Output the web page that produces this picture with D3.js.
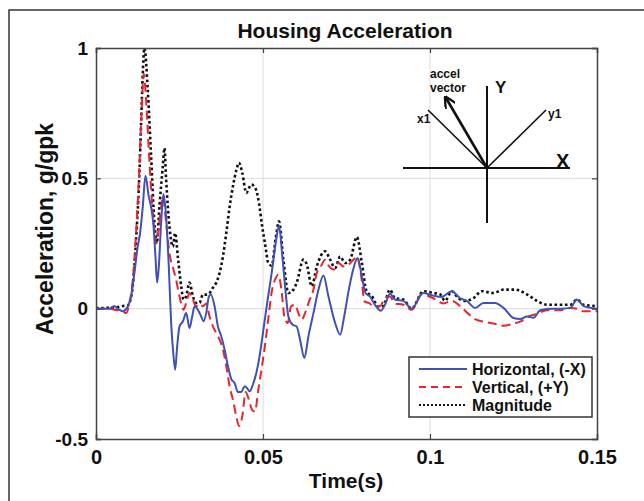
<!DOCTYPE html>
<html>
<head>
<meta charset="utf-8">
<script src="https://cdn.jsdelivr.net/npm/d3@7"></script>
<style>
  body { margin: 0; background: #fff; }
  text { font-family: "Liberation Sans", Arial, sans-serif; font-weight: bold; fill: #111; }
</style>
</head>
<body>
<div id="chart-area"></div>
<script>
// data: [time (s), acceleration (g/gpk)]
var horizontal = [[0,0],[0.004,0],[0.0055,0.01],[0.0065,0],[0.008,-0.01],[0.0095,0.008],[0.0105,0.047],[0.0115,0.137],[0.0125,0.24],[0.0132,0.29],[0.014,0.39],[0.0148,0.51],[0.0158,0.43],[0.0165,0.39],[0.0172,0.32],[0.0178,0.2],[0.0183,0.1],[0.0188,0.16],[0.0195,0.33],[0.0202,0.44],[0.021,0.35],[0.0218,0.16],[0.0225,-0.055],[0.0232,-0.18],[0.0237,-0.234],[0.0243,-0.145],[0.025,-0.068],[0.026,-0.049],[0.027,-0.017],[0.028,-0.074],[0.0288,-0.03],[0.0295,0.009],[0.0305,-0.004],[0.0315,-0.03],[0.0322,-0.049],[0.033,-0.017],[0.0338,0.047],[0.0344,0.054],[0.0355,0.009],[0.0365,-0.068],[0.0375,-0.106],[0.0385,-0.157],[0.0395,-0.22],[0.0405,-0.27],[0.0415,-0.285],[0.0425,-0.32],[0.0435,-0.32],[0.0445,-0.298],[0.0452,-0.304],[0.046,-0.317],[0.047,-0.29],[0.048,-0.247],[0.049,-0.18],[0.0498,-0.11],[0.0511,0.009],[0.0526,0.137],[0.0538,0.252],[0.0548,0.318],[0.0558,0.2],[0.0568,0.06],[0.0576,-0.03],[0.0588,-0.061],[0.0601,-0.069],[0.0611,-0.119],[0.0624,-0.189],[0.0636,-0.106],[0.0651,-0.017],[0.0666,0.073],[0.0681,0.127],[0.0696,0.047],[0.0716,-0.055],[0.0731,-0.1],[0.0743,-0.03],[0.0757,0.073],[0.077,0.15],[0.0783,0.194],[0.0796,0.124],[0.0807,0.06],[0.082,0.047],[0.0835,0.015],[0.0853,-0.008],[0.0867,0.02],[0.088,0.058],[0.0895,0.035],[0.092,0.03],[0.0945,0],[0.098,0.06],[0.101,0.05],[0.1035,0.045],[0.1065,0.067],[0.109,0.04],[0.111,0.03],[0.1135,0.003],[0.116,0.022],[0.1195,0.022],[0.122,0.003],[0.125,-0.036],[0.127,-0.04],[0.129,-0.03],[0.131,-0.035],[0.133,-0.006],[0.136,0],[0.1395,0],[0.142,0.003],[0.144,0.035],[0.146,0.01],[0.15,0]];

var vertical = [[0,0],[0.004,0],[0.0055,-0.004],[0.008,-0.01],[0.009,-0.017],[0.01,0.02],[0.011,0.11],[0.012,0.29],[0.0128,0.49],[0.0135,0.71],[0.0143,0.9],[0.015,0.8],[0.0158,0.61],[0.0165,0.456],[0.0172,0.34],[0.018,0.25],[0.0186,0.29],[0.0195,0.39],[0.02,0.43],[0.021,0.33],[0.022,0.21],[0.023,0.16],[0.024,0.11],[0.025,0.047],[0.0262,-0.004],[0.027,0.022],[0.028,0.06],[0.029,0.035],[0.03,0.009],[0.031,0.02],[0.032,0.009],[0.033,0.02],[0.034,-0.03],[0.035,-0.068],[0.036,-0.093],[0.037,-0.119],[0.038,-0.157],[0.039,-0.22],[0.04,-0.298],[0.041,-0.35],[0.042,-0.413],[0.0428,-0.45],[0.0438,-0.413],[0.0448,-0.32],[0.0458,-0.35],[0.0467,-0.387],[0.0476,-0.395],[0.0486,-0.31],[0.0496,-0.23],[0.0506,-0.14],[0.0516,-0.038],[0.0526,0.064],[0.0536,0.111],[0.0546,0.13],[0.0556,0.064],[0.0564,-0.03],[0.0574,-0.055],[0.0584,0.009],[0.0596,0.015],[0.0606,-0.017],[0.0616,-0.042],[0.0626,-0.017],[0.0638,0.028],[0.0651,0.073],[0.0661,0.137],[0.0671,0.156],[0.0686,0.188],[0.0698,0.162],[0.0711,0.15],[0.0726,0.175],[0.0741,0.162],[0.0756,0.169],[0.0771,0.188],[0.0781,0.2],[0.0794,0.124],[0.0804,0.028],[0.0816,0.022],[0.0835,0.009],[0.085,0.009],[0.0865,0.04],[0.088,0.047],[0.0895,0.02],[0.092,0.015],[0.0945,-0.004],[0.0975,0.055],[0.101,0.04],[0.104,0.02],[0.1065,0.03],[0.109,0.01],[0.1115,-0.02],[0.1135,-0.04],[0.116,-0.05],[0.119,-0.057],[0.122,-0.066],[0.125,-0.057],[0.127,-0.05],[0.1295,-0.03],[0.132,-0.02],[0.135,-0.006],[0.139,-0.006],[0.142,0.003],[0.144,0],[0.146,-0.01],[0.15,-0.01]];

var magnitude = [[0,0.002],[0.006,0.005],[0.008,0.01],[0.0095,0.012],[0.01,0.022],[0.011,0.086],[0.012,0.265],[0.013,0.52],[0.0135,0.71],[0.014,0.9],[0.0145,1.0],[0.0155,0.84],[0.0165,0.585],[0.0175,0.328],[0.0182,0.251],[0.019,0.393],[0.02,0.545],[0.0205,0.616],[0.021,0.494],[0.022,0.315],[0.023,0.238],[0.0237,0.29],[0.0245,0.2],[0.0255,0.086],[0.0262,0.035],[0.027,0.048],[0.028,0.1],[0.029,0.048],[0.03,0.022],[0.031,0.022],[0.032,0.054],[0.033,0.054],[0.034,0.06],[0.035,0.08],[0.036,0.1],[0.037,0.137],[0.038,0.2],[0.039,0.29],[0.04,0.39],[0.041,0.47],[0.042,0.53],[0.0428,0.56],[0.0438,0.52],[0.045,0.444],[0.0465,0.476],[0.0478,0.46],[0.0488,0.405],[0.0497,0.32],[0.0506,0.25],[0.0516,0.175],[0.0526,0.165],[0.0538,0.27],[0.0548,0.335],[0.0561,0.188],[0.0576,0.06],[0.0591,0.073],[0.0601,0.1],[0.0621,0.188],[0.0631,0.17],[0.0646,0.086],[0.0661,0.162],[0.0686,0.22],[0.0701,0.188],[0.0716,0.156],[0.0731,0.2],[0.0746,0.175],[0.0761,0.188],[0.0781,0.275],[0.0796,0.175],[0.081,0.067],[0.0826,0.048],[0.0845,0.009],[0.086,0.01],[0.088,0.073],[0.0895,0.04],[0.092,0.035],[0.0945,0],[0.098,0.067],[0.101,0.06],[0.103,0.055],[0.1045,0.03],[0.1065,0.067],[0.1085,0.04],[0.1105,0.03],[0.113,0.04],[0.1155,0.067],[0.119,0.06],[0.122,0.073],[0.1255,0.073],[0.129,0.055],[0.132,0.03],[0.135,0.015],[0.139,0.015],[0.142,0.015],[0.144,0.035],[0.146,0.015],[0.15,0.01]];

var xTicks = [0, 0.05, 0.1, 0.15];
var xTickLabels = ["0", "0.05", "0.1", "0.15"];
var yTicks = [-0.5, 0, 0.5, 1];
var yTickLabels = ["-0.5", "0", "0.5", "1"];
var seriesNames = ["Horizontal, (-X)", "Vertical, (+Y)", "Magnitude"];

// layout
var W = 644, H = 501;
var margin = {left: 96, right: 47, top: 48, bottom: 62};
var width = W - margin.left - margin.right;
var height = H - margin.top - margin.bottom;

var svg = d3.select("#chart-area").append("svg")
    .attr("width", W).attr("height", H);

// outer frame (runs off the right and bottom edge)
svg.append("rect")
    .attr("x", 9).attr("y", 10)
    .attr("width", 700).attr("height", 600)
    .attr("fill", "none").attr("stroke", "#333").attr("stroke-width", 1.5);

var g = svg.append("g")
    .attr("transform", "translate(" + margin.left + "," + margin.top + ")");

var x = d3.scaleLinear().domain([0, 0.15]).range([0, width]);
var y = d3.scaleLinear().domain([-0.5, 1]).range([height, 0]);

// grid
g.selectAll(".vgrid").data(xTicks.slice(1, -1)).enter().append("line")
    .attr("x1", d => x(d)).attr("x2", d => x(d))
    .attr("y1", 0).attr("y2", height)
    .attr("stroke", "#dcdcdc").attr("stroke-width", 1);
g.selectAll(".hgrid").data(yTicks.slice(1, -1)).enter().append("line")
    .attr("x1", 0).attr("x2", width)
    .attr("y1", d => y(d)).attr("y2", d => y(d))
    .attr("stroke", "#dcdcdc").attr("stroke-width", 1);

// curves
var line = d3.line().x(d => x(d[0])).y(d => y(d[1])).curve(d3.curveMonotoneX);

g.append("path").datum(magnitude)
    .attr("d", line).attr("fill", "none")
    .attr("stroke", "#111").attr("stroke-width", 2.6)
    .attr("stroke-dasharray", "2.6,2.6");

g.append("path").datum(vertical)
    .attr("d", line).attr("fill", "none")
    .attr("stroke", "#e8252e").attr("stroke-width", 2)
    .attr("stroke-dasharray", "9,5");

g.append("path").datum(horizontal)
    .attr("d", line).attr("fill", "none")
    .attr("stroke", "#3f51b5").attr("stroke-width", 2);

// axes (MATLAB style: inward ticks all round, box)
var bottomAxis = d3.axisBottom(x).tickValues(xTicks).tickSize(-5).tickPadding(10)
    .tickFormat((d, i) => xTickLabels[i]);
var leftAxis = d3.axisLeft(y).tickValues(yTicks).tickSize(-5).tickPadding(8)
    .tickFormat((d, i) => yTickLabels[i]);

var bx = g.append("g").attr("class", "x-axis")
    .attr("transform", "translate(0," + height + ")").call(bottomAxis);
var ly = g.append("g").attr("class", "y-axis").call(leftAxis);
g.append("g").attr("transform", "translate(" + width + ",0)")
    .call(d3.axisRight(y).tickValues(yTicks).tickSize(-5).tickFormat(""));
g.append("g")
    .call(d3.axisTop(x).tickValues(xTicks).tickSize(-5).tickFormat(""));

g.selectAll(".domain").attr("stroke", "#444").attr("stroke-width", 1.5);
g.selectAll(".tick line").attr("stroke", "#444").attr("stroke-width", 1.2);
bx.selectAll("text").attr("font-size", "20px").attr("fill", "#111").attr("dy", "0.75em")
    .style("font-family", "Liberation Sans, Arial, sans-serif").style("font-weight", "bold");
ly.selectAll("text").attr("font-size", "19px").attr("fill", "#111")
    .style("font-family", "Liberation Sans, Arial, sans-serif").style("font-weight", "bold");

// labels
svg.append("text")
    .attr("x", 345).attr("y", 38)
    .attr("text-anchor", "middle").attr("font-size", "21px")
    .text("Housing Acceleration");

svg.append("text")
    .attr("x", 346).attr("y", 488)
    .attr("text-anchor", "middle").attr("font-size", "21px")
    .text("Time(s)");

svg.append("text")
    .attr("transform", "translate(53,229) rotate(-90)")
    .attr("text-anchor", "middle").attr("font-size", "23px")
    .text("Acceleration, g/gpk");

// legend
var legend = svg.append("g").attr("transform", "translate(409,357)");
legend.append("rect")
    .attr("width", 183).attr("height", 60)
    .attr("fill", "#fff").attr("stroke", "#333").attr("stroke-width", 1.5);

var legendStyles = [
    {stroke: "#3f51b5", dash: null, w: 2},
    {stroke: "#e8252e", dash: "7,5", w: 2},
    {stroke: "#111", dash: "2,2", w: 2}
];
seriesNames.forEach(function(name, i) {
    var row = legend.append("g").attr("transform", "translate(0," + (12 + i * 18) + ")");
    row.append("line")
        .attr("x1", 10).attr("x2", 58)
        .attr("stroke", legendStyles[i].stroke)
        .attr("stroke-width", legendStyles[i].w)
        .attr("stroke-dasharray", legendStyles[i].dash);
    row.append("text")
        .attr("x", 63).attr("y", 6)
        .attr("font-size", "16px")
        .text(name);
});

// inset: coordinate sketch with the accel vector
var inset = svg.append("g").attr("transform", "translate(487,168)");
var arm = 84;
inset.append("line").attr("x1", -arm).attr("x2", arm - 1).attr("y1", 0).attr("y2", 0)
    .attr("stroke", "#111").attr("stroke-width", 2);
inset.append("line").attr("x1", 0).attr("x2", 0).attr("y1", -82).attr("y2", 55)
    .attr("stroke", "#111").attr("stroke-width", 2);
inset.append("line").attr("x1", 0).attr("y1", 0).attr("x2", -59).attr("y2", -58)
    .attr("stroke", "#111").attr("stroke-width", 1.6);
inset.append("line").attr("x1", 0).attr("y1", 0).attr("x2", 59).attr("y2", -58)
    .attr("stroke", "#111").attr("stroke-width", 1.6);

svg.append("defs").append("marker")
    .attr("id", "arrow").attr("viewBox", "0 0 10 10")
    .attr("refX", 8).attr("refY", 5)
    .attr("markerWidth", 4.5).attr("markerHeight", 4.5)
    .attr("orient", "auto")
    .append("path").attr("d", "M0,0 L10,5 L0,10")
    .attr("fill", "none").attr("stroke", "#111").attr("stroke-width", 2);
inset.append("line").attr("x1", 0).attr("y1", 0).attr("x2", -41).attr("y2", -70)
    .attr("stroke", "#111").attr("stroke-width", 2.6)
    .attr("marker-end", "url(#arrow)");

inset.append("text").attr("x", -57).attr("y", -90).attr("font-size", "12px").text("accel");
inset.append("text").attr("x", -57).attr("y", -76).attr("font-size", "12px").text("vector");
inset.append("text").attr("x", 8).attr("y", -75).attr("font-size", "17px").text("Y");
inset.append("text").attr("x", -70).attr("y", -45).attr("font-size", "12px").text("x1");
inset.append("text").attr("x", 61).attr("y", -50).attr("font-size", "12px").text("y1");
inset.append("text").attr("x", 69).attr("y", 0).attr("font-size", "20px").text("X");
</script>
</body>
</html>
